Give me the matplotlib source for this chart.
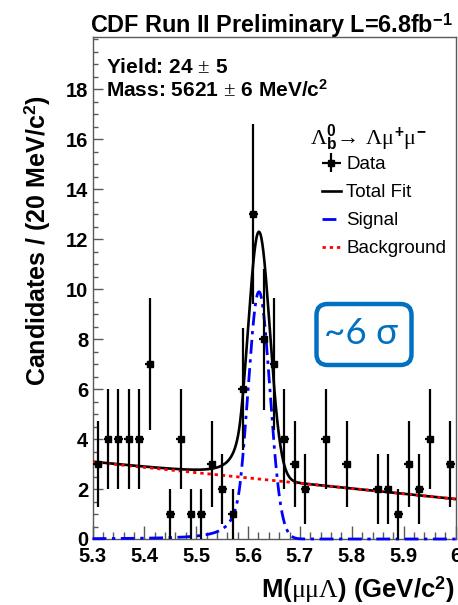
import numpy as np
import matplotlib
matplotlib.use("Agg")
import matplotlib.pyplot as plt
from matplotlib.patches import FancyBboxPatch
from matplotlib.lines import Line2D
from matplotlib.ticker import MultipleLocator, FixedLocator, FixedFormatter

# 20 MeV bins from 5.30 to 6.00 GeV/c^2
bin_lo = 5.30
bin_width = 0.02
counts = [3, 4, 4, 4, 4, 7, 0, 1, 4, 1, 1, 3, 2, 1, 6, 13, 8, 7,
          4, 3, 2, 0, 4, 0, 3, 0, 0, 2, 2, 1, 3, 2, 4, 0, 3]

# fit result
bkg_at_lo = 3.08      # background at 5.30
bkg_at_hi = 1.60      # background at 6.00
sig_peak = 9.9
sig_mean = 5.621
sig_sigma = 0.021
cb_alpha = 1.7
cb_n = 2.0

x_ticks = [5.3, 5.4, 5.5, 5.6, 5.7, 5.8, 5.9, 6.0]
x_tick_labels = ["5.3", "5.4", "5.5", "5.6", "5.7", "5.8", "5.9", "6"]
y_ticks = [0, 2, 4, 6, 8, 10, 12, 14, 16, 18]

SANS = ["Liberation Sans", "DejaVu Sans"]
plt.rcParams["font.family"] = SANS
plt.rcParams["mathtext.fontset"] = "custom"
plt.rcParams["mathtext.rm"] = "Liberation Serif"
plt.rcParams["mathtext.it"] = "Liberation Serif"
plt.rcParams["mathtext.bf"] = "Liberation Sans:bold"


def background(x):
    return bkg_at_lo + (bkg_at_hi - bkg_at_lo) * (x - 5.3) / 0.7


def signal(x):
    # crystal ball shape, radiative tail on the low side
    t = (x - sig_mean) / sig_sigma
    a = (cb_n / cb_alpha) ** cb_n * np.exp(-cb_alpha ** 2 / 2)
    b = cb_n / cb_alpha - cb_alpha
    core = np.exp(-t ** 2 / 2)
    tail = a / np.abs(b - t) ** cb_n
    return sig_peak * np.where(t > -cb_alpha, core, tail)


W, H = 458, 605
fig = plt.figure(figsize=(W / 100, H / 100), dpi=100)
ax = fig.add_axes([92.5 / W, (H - 539) / H, 363 / W, 502 / H])

counts = np.array(counts, dtype=float)
centers = bin_lo + bin_width * (np.arange(len(counts)) + 0.5)
nz = counts > 0

xs = np.linspace(5.3, 6.0, 700)
ax.plot(xs, background(xs) + signal(xs), color="black", lw=1.9, zorder=3)
ax.plot(xs, signal(xs), color="#0000ff", lw=2.0, dashes=(5, 2, 1.2, 2),
        zorder=4, clip_on=False)
ax.plot(xs, background(xs), color="#ff0000", lw=2.0, dashes=(1.2, 1.4), zorder=5)

ax.errorbar(centers[nz], counts[nz], yerr=np.sqrt(counts[nz]), xerr=0.0085,
            fmt="s", color="black", ms=4.2, lw=1.6, capsize=0, zorder=6)

ax.set_xlim(5.3, 6.0)
ax.set_ylim(0, 20.1)
ax.xaxis.set_major_locator(FixedLocator(x_ticks))
ax.xaxis.set_major_formatter(FixedFormatter(x_tick_labels))
ax.xaxis.set_minor_locator(MultipleLocator(0.02))
ax.yaxis.set_major_locator(FixedLocator(y_ticks))
ax.yaxis.set_minor_locator(MultipleLocator(0.5))
ax.tick_params(which="both", direction="in", top=False, right=False,
               color="0.35", width=1.0)
ax.tick_params(axis="x", which="major", length=9.5, pad=6)
ax.tick_params(axis="x", which="minor", length=5)
ax.tick_params(axis="y", which="major", length=7.5, pad=3)
ax.tick_params(axis="y", which="minor", length=3.5)
for lab in ax.get_xticklabels() + ax.get_yticklabels():
    lab.set_fontsize(14.5)
    lab.set_fontweight("bold")
for sp in ax.spines.values():
    sp.set_color("0.35")
    sp.set_linewidth(1.0)

# titles and labels
fig.text(90 / W, 1 - 33 / H, r"CDF Run II Preliminary L=6.8fb$^{\mathbf{-1}}$",
         fontsize=16.8, fontweight="bold", ha="left", va="baseline")
fig.text(37 / W, 1 - 95 / H, r"Candidates / (20 MeV/c$^{\mathbf{2}}$)",
         fontsize=18, fontweight="bold", rotation=90, ha="center", va="top")
fig.text(455 / W, 1 - 598 / H, r"M($\mu\mu\Lambda$) (GeV/c$^{\mathbf{2}}$)",
         fontsize=18.5, fontweight="bold", ha="right", va="baseline")

fig.text(106 / W, 1 - 73 / H, r"Yield: 24$\,\pm\,$5",
         fontsize=15, fontweight="bold", ha="left", va="baseline")
fig.text(106 / W, 1 - 97 / H, r"Mass: 5621$\,\pm\,$6 MeV/c$^{\mathbf{2}}$",
         fontsize=15, fontweight="bold", ha="left", va="baseline")

# legend
fig.text(310 / W, 1 - 138 / H,
         r"$\Lambda^{\mathbf{0}}_{\mathbf{b}}\!\rightarrow\,\Lambda\mu^{\mathbf{+}}\mu^{\mathbf{-}}$",
         fontsize=16, ha="left", va="center")
data_handle = ax.errorbar([], [], yerr=[], xerr=[], fmt="s", color="black",
                          ms=4.2, lw=1.6, capsize=0)
handles = [
    data_handle,
    Line2D([], [], color="black", lw=1.9),
    Line2D([], [], color="#0000ff", lw=2.0, dashes=(5, 2, 1.2, 2)),
    Line2D([], [], color="#ff0000", lw=2.0, dashes=(1.2, 1.4)),
]
labels = ["Data", "Total Fit", "Signal", "Background"]
fig.legend(handles, labels, loc="upper left",
           bbox_to_anchor=(322 / W, 1 - 156 / H), bbox_transform=fig.transFigure,
           frameon=False, fontsize=13.5, handlelength=1.0, handletextpad=0.3,
           labelspacing=0.58, borderpad=0, borderaxespad=0)

# significance box
box_color = "#0070c0"
box = FancyBboxPatch((3.165, (H - 365) / 100), 0.95, 0.61,
                     boxstyle="round,pad=0,rounding_size=0.11",
                     transform=fig.dpi_scale_trans, fc="white", ec=box_color,
                     lw=3.2, zorder=10)
fig.patches.append(box)
fig.text(361 / W, 1 - 334 / H, "~6 σ", fontsize=26.5, color=box_color,
         family=["Lato", "DejaVu Sans"], ha="center", va="center", zorder=11)

fig.savefig("out.png", dpi=100)
